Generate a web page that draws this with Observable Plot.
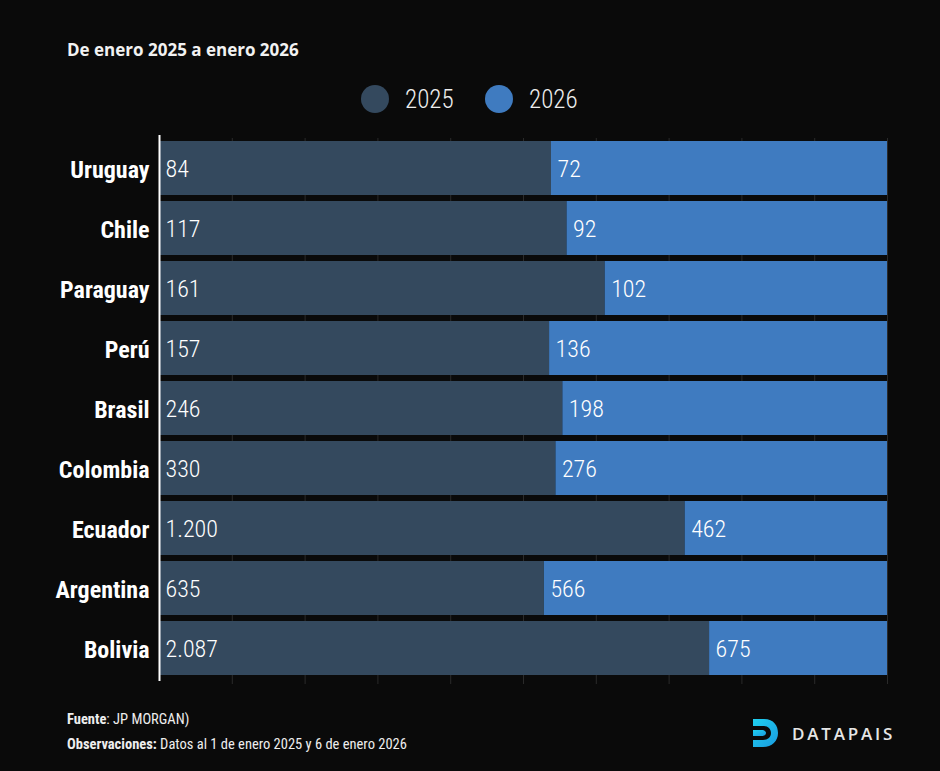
<!DOCTYPE html>
<html>
<head>
<meta charset="utf-8">
<script src="https://cdn.jsdelivr.net/npm/d3@7"></script>
<script src="https://cdn.jsdelivr.net/npm/@observablehq/plot@0.6"></script>
<style>
  html, body { margin: 0; padding: 0; background: #0a0a0a; }
  #wrap { position: relative; width: 940px; height: 771px; background: #0a0a0a; overflow: hidden;
          font-family: "Roboto Condensed", "Liberation Sans Narrow", "DejaVu Sans Condensed", sans-serif; color: #fff; }
  #title { position: absolute; left: 67px; top: 38px; font-family: "Open Sans", sans-serif; font-weight: 700; font-size: 17px; color: #f2f2f2; }
  #legend { position: absolute; left: 0; top: 84px; width: 940px; height: 30px; }
  .li { position: absolute; top: 0; display: flex; align-items: center; height: 30px; font-size: 25px; font-weight: 300; color: #eee; }
  .dot { width: 28px; height: 28px; border-radius: 50%; margin-right: 16px; }
  #chart { position: absolute; left: 0; top: 130px; }
  #foot1, #foot2 { position: absolute; left: 67px; font-size: 14.5px; color: #eee; }
  #foot1 { top: 711px; } #foot2 { top: 736px; }
  #logo { position: absolute; left: 750px; top: 716px; display: flex; align-items: center; }
  #logo span { font-family: "Open Sans", "DejaVu Sans", sans-serif; font-size: 17px; letter-spacing: 2.8px; color: #e6e6e6; margin-left: 12px; font-weight: 600; }
</style>
</head>
<body>
<div id="wrap">
  <div id="title">De enero 2025 a enero 2026</div>
  <div id="legend"></div>
  <div id="chart"></div>
  <div id="foot1"><b>Fuente</b>: JP MORGAN)</div>
  <div id="foot2"><b>Observaciones:</b> Datos al 1 de enero 2025 y 6 de enero 2026</div>
  <div id="logo">
    <svg width="30" height="34" viewBox="0 0 30 34">
      <defs><linearGradient id="lg" x1="0" y1="0" x2="1" y2="1"><stop offset="0" stop-color="#1fd0f0"/><stop offset="1" stop-color="#1a9be0"/></linearGradient></defs>
      <path d="M3 3 H14 C24 3 28 10 28 17 C28 25 22 31 13 31 H3 V24 H13 C18 24 21 21 21 17 C21 13 18 10 14 10 H3 Z" fill="url(#lg)"/>
      <path d="M3 14 H12 C15 14 16 16 16 17 C16 19 14 20 12 20 H3 Z" fill="url(#lg)"/>
    </svg>
    <span>DATAPAIS</span>
  </div>
</div>
<script>
const countries = ["Uruguay", "Chile", "Paraguay", "Perú", "Brasil", "Colombia", "Ecuador", "Argentina", "Bolivia"];
const years = ["2025", "2026"];
const values2025 = [84, 117, 161, 157, 246, 330, 1200, 635, 2087];
const values2026 = [72, 92, 102, 136, 198, 276, 462, 566, 675];
const colors = ["#34495e", "#3f7bc0"];
const gridTicks = [0.1, 0.2, 0.3, 0.4, 0.5, 0.6, 0.7, 0.8, 0.9, 1.0];

const locale = d3.formatLocale({decimal: ",", thousands: ".", grouping: [3], currency: ["", ""]});
const fmt = locale.format(",d");

const data = [];
countries.forEach((c, i) => {
  data.push({country: c, year: years[0], value: values2025[i]});
  data.push({country: c, year: years[1], value: values2026[i]});
});

// legend
const legend = document.getElementById("legend");
const legendPos = [361, 485];
years.forEach((y, i) => {
  const d = document.createElement("div");
  d.className = "li";
  d.style.left = legendPos[i] + "px";
  d.innerHTML = `<div class="dot" style="background:${colors[i]}"></div>${y}`;
  legend.appendChild(d);
});

const chart = Plot.plot({
  width: 940,
  height: 565,
  marginLeft: 159,
  marginRight: 53,
  marginTop: 8,
  marginBottom: 17,
  style: {background: "transparent", color: "#fff", fontFamily: "'Roboto Condensed', 'Liberation Sans Narrow', 'DejaVu Sans Condensed', sans-serif"},
  x: {domain: [0, 1], axis: null},
  y: {domain: countries, paddingInner: 0.1, paddingOuter: 0.05, label: null},
  color: {domain: years, range: colors},
  marks: [
    Plot.ruleX(gridTicks, {stroke: "#2a2a2a", strokeWidth: 1, insetBottom: -6}),
    Plot.barX(data, Plot.stackX({x: "value", y: "country", fill: "year", z: "year", order: years, offset: "normalize"})),
    Plot.text(data, Plot.stackX1({x: "value", y: "country", z: "year", order: years, offset: "normalize",
      text: d => fmt(d.value), textAnchor: "start", dx: 6, dy: 1, fill: "#fff", fontSize: 24, fontWeight: 300})),
    Plot.ruleX([0], {stroke: "#fff", strokeWidth: 2, insetTop: -3, insetBottom: -3}),
    Plot.axisY({tickSize: 0, tickPadding: 10, dy: 2, fontSize: 24, fontWeight: "bold", label: null, fill: "#fff"})
  ]
});
document.getElementById("chart").appendChild(chart);
</script>
</body>
</html>
